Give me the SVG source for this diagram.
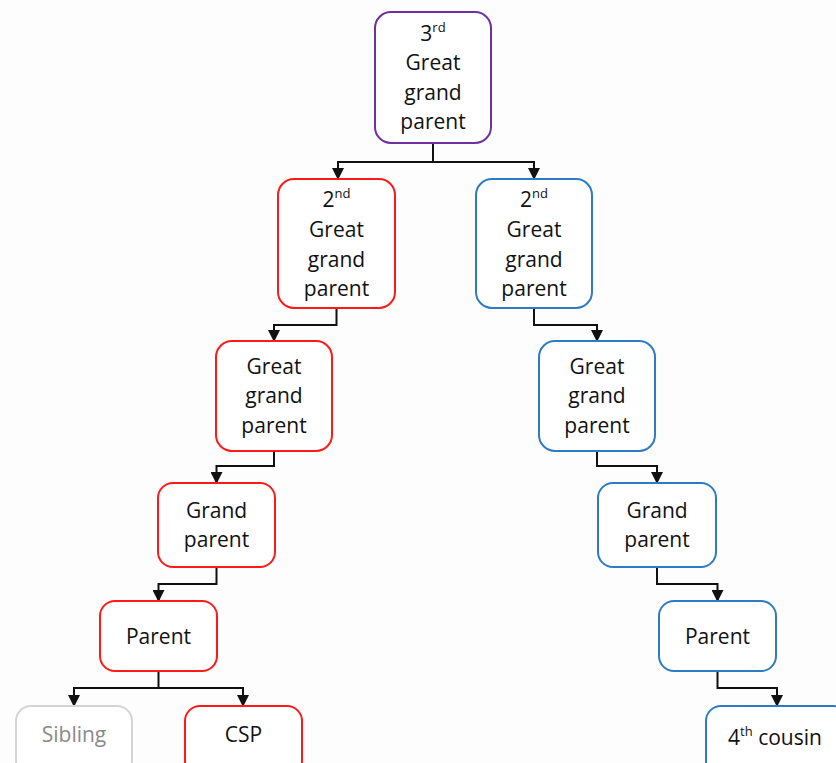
<svg xmlns="http://www.w3.org/2000/svg" width="836" height="763" viewBox="0 0 836 763">
<defs>
<style>
.box{fill:#ffffff;stroke-width:2}
.p{stroke:#7030a0}
.r{stroke:#ff1a1a}
.b{stroke:#2e7bc4}
.g{stroke:#d4d4d4}
text{font-family:"Open Sans","Liberation Sans",sans-serif;font-size:21px;fill:#111;text-anchor:middle}
.sup{font-size:13px}
.grey{fill:#8a8a8a}
.c{fill:none;stroke:#111;stroke-width:2}
</style>
<marker id="ah" markerUnits="userSpaceOnUse" markerWidth="12" markerHeight="12" refX="11" refY="6" orient="auto">
<path d="M0,0 L12,6 L0,12 z" fill="#111"/>
</marker>
</defs>
<rect width="836" height="763" fill="#fdfdfd"/>
<g id="connectors">
<path class="c" d="M433,143 V162 H338 V179" marker-end="url(#ah)"/>
<path class="c" d="M433,162 H534 V179" marker-end="url(#ah)"/>
<path class="c" d="M336.5,308 V325 H274 V341" marker-end="url(#ah)"/>
<path class="c" d="M534,308 V325 H597 V341" marker-end="url(#ah)"/>
<path class="c" d="M274,451 V466 H216.5 V483" marker-end="url(#ah)"/>
<path class="c" d="M597,451 V466 H657 V483" marker-end="url(#ah)"/>
<path class="c" d="M216.5,567 V584 H158.5 V601" marker-end="url(#ah)"/>
<path class="c" d="M657,567 V584 H717.5 V601" marker-end="url(#ah)"/>
<path class="c" d="M158.5,671 V688 H74 V706" marker-end="url(#ah)"/>
<path class="c" d="M158.5,688 H243 V706" marker-end="url(#ah)"/>
<path class="c" d="M717.5,671 V688 H777 V706" marker-end="url(#ah)"/>
</g>
<g id="n3ggp">
<rect class="box p" x="375" y="12" width="116" height="131" rx="16"/>
<text x="433" y="41">3<tspan class="sup" dy="-9">rd</tspan></text>
<text x="433" y="70">Great</text>
<text x="433" y="100">grand</text>
<text x="433" y="129">parent</text>
</g>
<g id="n2ggp-red">
<rect class="box r" x="278" y="179" width="117" height="129" rx="16"/>
<text x="336.5" y="207">2<tspan class="sup" dy="-9">nd</tspan></text>
<text x="336.5" y="237">Great</text>
<text x="336.5" y="267">grand</text>
<text x="336.5" y="296">parent</text>
</g>
<g id="n2ggp-blue">
<rect class="box b" x="476" y="179" width="116" height="129" rx="16"/>
<text x="534" y="207">2<tspan class="sup" dy="-9">nd</tspan></text>
<text x="534" y="237">Great</text>
<text x="534" y="267">grand</text>
<text x="534" y="296">parent</text>
</g>
<g id="nggp-red">
<rect class="box r" x="216" y="341" width="116" height="110" rx="16"/>
<text x="274" y="374">Great</text>
<text x="274" y="403">grand</text>
<text x="274" y="433">parent</text>
</g>
<g id="nggp-blue">
<rect class="box b" x="539" y="341" width="116" height="110" rx="16"/>
<text x="597" y="374">Great</text>
<text x="597" y="403">grand</text>
<text x="597" y="433">parent</text>
</g>
<g id="ngp-red">
<rect class="box r" x="158" y="483" width="117" height="84" rx="15"/>
<text x="216.5" y="518">Grand</text>
<text x="216.5" y="547">parent</text>
</g>
<g id="ngp-blue">
<rect class="box b" x="598" y="483" width="118" height="84" rx="15"/>
<text x="657" y="518">Grand</text>
<text x="657" y="547">parent</text>
</g>
<g id="np-red">
<rect class="box r" x="100" y="601" width="117" height="70" rx="15"/>
<text x="158.5" y="644">Parent</text>
</g>
<g id="np-blue">
<rect class="box b" x="659" y="601" width="117" height="70" rx="15"/>
<text x="717.5" y="644">Parent</text>
</g>
<g id="nsibling">
<rect class="box g" x="16" y="706" width="116" height="70" rx="15"/>
<text class="grey" x="74" y="742">Sibling</text>
</g>
<g id="ncsp">
<rect class="box r" x="185" y="706" width="117" height="70" rx="15"/>
<text x="243.5" y="742">CSP</text>
</g>
<g id="ncousin">
<rect class="box b" x="706" y="706" width="142" height="70" rx="15"/>
<text x="775" y="745">4<tspan class="sup" dy="-9">th</tspan><tspan dy="9"> cousin</tspan></text>
</g>
</svg>
